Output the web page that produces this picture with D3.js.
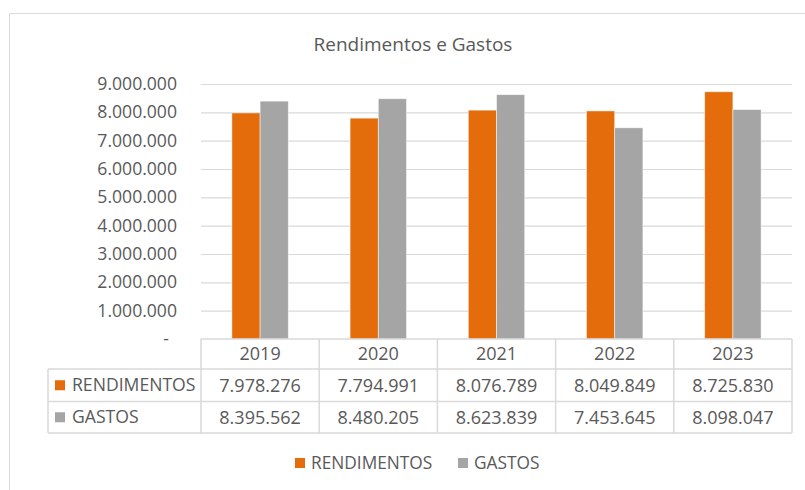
<!DOCTYPE html>
<html>
<head>
<meta charset="utf-8">
<script src="https://cdn.jsdelivr.net/npm/d3@7"></script>
<style>
  body { margin: 0; background: #fff; }
  text { font-family: "Open Sans", sans-serif; fill: #595959; }
</style>
</head>
<body>
<div id="chart"></div>
<script>
// Data
const years = ["2019", "2020", "2021", "2022", "2023"];
const seriesNames = ["RENDIMENTOS", "GASTOS"];
const rendimentos = [7978276, 7794991, 8076789, 8049849, 8725830];
const gastos = [8395562, 8480205, 8623839, 7453645, 8098047];
const yTicks = [0, 1000000, 2000000, 3000000, 4000000, 5000000, 6000000, 7000000, 8000000, 9000000];

const colors = { RENDIMENTOS: "#E46C0A", GASTOS: "#A5A5A5" };

const width = 805, height = 490;
const margin = { top: 84, left: 201, right: 13, bottom: 151 };
const chartWidth = width - margin.left - margin.right;
const chartHeight = height - margin.top - margin.bottom;

const ptLocale = d3.formatLocale({ decimal: ",", thousands: ".", grouping: [3], currency: ["", ""] });
const fmt = ptLocale.format(",d");

const svg = d3.select("#chart").append("svg")
  .attr("width", width)
  .attr("height", height);

// chart frame
svg.append("path")
  .attr("d", "M9.5,490 V13.5 H805")
  .attr("fill", "none")
  .attr("stroke", "#d9d9d9");

svg.append("text")
  .attr("x", 413)
  .attr("y", 51)
  .attr("text-anchor", "middle")
  .style("font-size", "19px")
  .text("Rendimentos e Gastos");

const chart = svg.append("g")
  .attr("transform", "translate(" + margin.left + "," + margin.top + ")");

const xScale = d3.scaleBand().domain(years).range([0, chartWidth]);
const yScale = d3.scaleLinear().domain([0, 9000000]).range([chartHeight, 0]);

// Excel style gap width 219%
const barWidth = xScale.bandwidth() / (seriesNames.length + 2.19);
const xInner = d3.scaleBand().domain(seriesNames)
  .range([0, barWidth * seriesNames.length]);
const groupOffset = (xScale.bandwidth() - barWidth * seriesNames.length) / 2;

// gridlines + labels
const yAxis = d3.axisLeft(yScale)
  .tickValues(yTicks)
  .tickSize(-chartWidth)
  .tickPadding(24)
  .tickFormat(d => d === 0 ? "-" : fmt(d));

const yG = chart.append("g").call(yAxis);
yG.select(".domain").remove();
yG.selectAll(".tick line").attr("stroke", "#d9d9d9").attr("stroke-width", 1.2);
yG.selectAll(".tick text")
  .style("font-size", "17.6px")
  .attr("fill", "#595959");
yG.selectAll(".tick").filter(d => d === 0).select("text").attr("dx", -8);
yG.selectAll(".tick").filter(d => d === 0).select("line").remove();

const table = { RENDIMENTOS: rendimentos, GASTOS: gastos };

const groups = chart.selectAll(".year")
  .data(years)
  .join("g")
  .attr("class", "year")
  .attr("transform", d => "translate(" + (xScale(d) + groupOffset) + ",0)");

groups.selectAll("rect")
  .data((d, i) => seriesNames.map(s => ({ s: s, v: table[s][i] })))
  .join("rect")
  .attr("x", d => xInner(d.s))
  .attr("y", d => yScale(d.v))
  .attr("width", xInner.bandwidth())
  .attr("height", d => chartHeight - yScale(d.v))
  .attr("fill", d => colors[d.s])
  .attr("stroke", "#fff")
  .attr("stroke-opacity", 0.6)
  .attr("stroke-width", 0.8);

// data table
const rowH = [30, 32.5, 31.5];
const tableTop = chartHeight;
const tableLeft = 48 - margin.left;
const lineColor = "#d9d9d9";
const tg = chart.append("g").attr("class", "data-table");

const rowTops = [tableTop, tableTop + rowH[0], tableTop + rowH[0] + rowH[1], tableTop + rowH[0] + rowH[1] + rowH[2]];

// horizontal lines
tg.append("line").attr("x1", 0).attr("x2", chartWidth)
  .attr("y1", rowTops[0]).attr("y2", rowTops[0]).attr("stroke", lineColor).attr("stroke-width", 1.5);
[1, 2, 3].forEach(i => {
  tg.append("line").attr("x1", tableLeft).attr("x2", chartWidth)
    .attr("y1", rowTops[i]).attr("y2", rowTops[i]).attr("stroke", lineColor).attr("stroke-width", 1.5);
});
// vertical lines
tg.append("line").attr("x1", tableLeft).attr("x2", tableLeft)
  .attr("y1", rowTops[1]).attr("y2", rowTops[3]).attr("stroke", lineColor).attr("stroke-width", 1.5);
years.concat(["end"]).forEach(y => {
  const xx = y === "end" ? chartWidth : xScale(y);
  tg.append("line").attr("x1", xx).attr("x2", xx)
    .attr("y1", rowTops[0]).attr("y2", rowTops[3]).attr("stroke", lineColor).attr("stroke-width", 1.5);
});

// header
tg.selectAll(".yr")
  .data(years)
  .join("text")
  .attr("x", d => xScale(d) + xScale.bandwidth() / 2)
  .attr("y", (rowTops[0] + rowTops[1]) / 2)
  .attr("dy", "0.35em")
  .attr("text-anchor", "middle")
  .style("font-size", "18px")
  .text(d => d);

seriesNames.forEach((s, r) => {
  const cy = (rowTops[r + 1] + rowTops[r + 2]) / 2;
  tg.append("rect")
    .attr("x", tableLeft + 7).attr("y", cy - 5)
    .attr("width", 10).attr("height", 10)
    .attr("fill", colors[s]);
  tg.append("text")
    .attr("x", tableLeft + 24).attr("y", cy)
    .attr("dy", "0.35em")
    .style("font-size", "17.6px")
    .text(s);
  tg.selectAll(".v" + r)
    .data(table[s])
    .join("text")
    .attr("x", (d, i) => xScale(years[i]) + xScale.bandwidth() / 2)
    .attr("y", cy)
    .attr("dy", "0.35em")
    .attr("text-anchor", "middle")
    .style("font-size", "18px")
    .text(d => fmt(d));
});

// legend
const legend = svg.append("g").attr("transform", "translate(295,463)");
const legendX = [0, 163];
seriesNames.forEach((s, i) => {
  legend.append("rect")
    .attr("x", legendX[i]).attr("y", -5)
    .attr("width", 10).attr("height", 10)
    .attr("fill", colors[s]);
  legend.append("text")
    .attr("x", legendX[i] + 16).attr("y", 0)
    .attr("dy", "0.35em")
    .style("font-size", "17.3px")
    .text(s);
});
</script>
</body>
</html>
